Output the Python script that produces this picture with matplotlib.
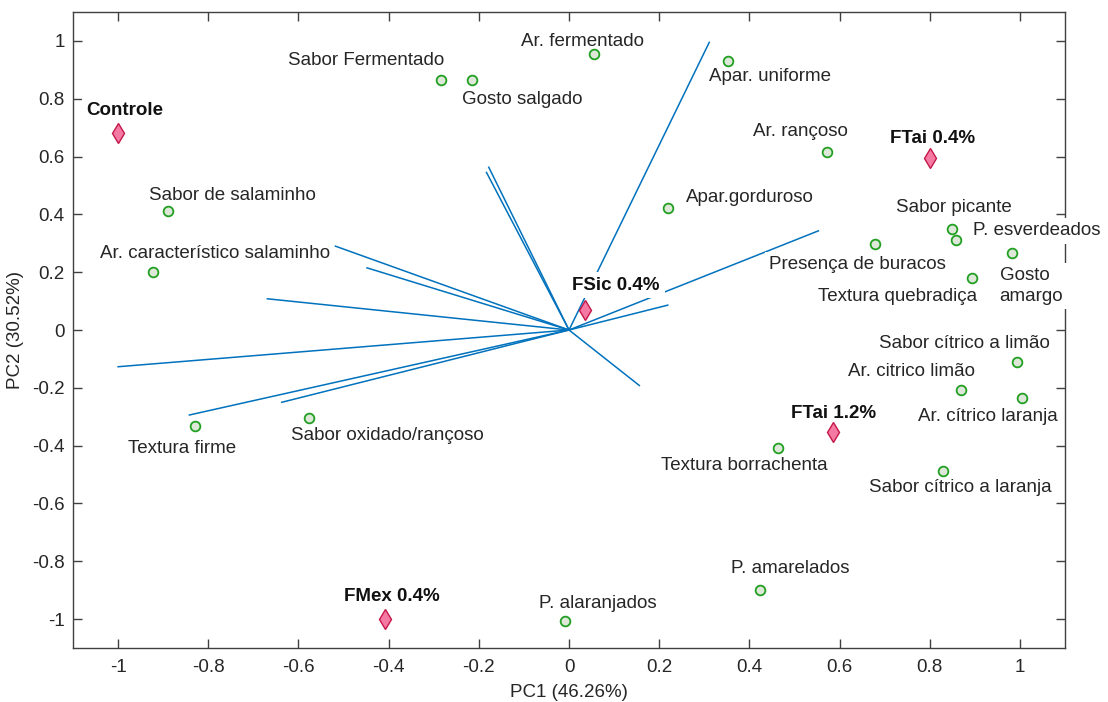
import numpy as np
import matplotlib
matplotlib.use("Agg")
import matplotlib.pyplot as plt

plt.rcParams['font.family'] = ['Liberation Sans', 'DejaVu Sans']
plt.rcParams['axes.unicode_minus'] = False

# loadings (biplot vectors from origin)
load_x = [-1.0, -0.669, -0.518, -0.448, -0.842, -0.637, -0.178, -0.183, 0.311, 0.553, 0.219, 0.156]
load_y = [-0.127, 0.108, 0.29, 0.215, -0.294, -0.25, 0.563, 0.545, 0.995, 0.343, 0.086, -0.192]

# sample scores
samples = ['Controle', 'FTai 0.4%', 'FSic 0.4%', 'FTai 1.2%', 'FMex 0.4%']
samp_x = [-1.0, 0.8, 0.035, 0.585, -0.408]
samp_y = [0.68, 0.596, 0.068, -0.354, -1.0]
samp_lx = [-1.07, 0.711, 0.0076, 0.493, -0.50]
samp_ly = [0.759, 0.662, 0.155, -0.289, -0.921]

# attributes
attrs = ['Sabor Fermentado', 'Gosto salgado', 'Ar. fermentado', 'Apar. uniforme',
         'Ar. rançoso', 'Apar.gorduroso', 'Sabor de salaminho',
         'Ar. característico salaminho', 'Textura firme', 'Sabor oxidado/rançoso',
         'Presença de buracos', 'Sabor picante', 'P. esverdeados', 'Gosto\namargo',
         'Textura quebradiça', 'Sabor cítrico a limão', 'Ar. citrico limão',
         'Ar. cítrico laranja', 'Sabor cítrico a laranja', 'Textura borrachenta',
         'P. amarelados', 'P. alaranjados']
attr_x = [-0.285, -0.215, 0.056, 0.353, 0.573, 0.219, -0.89, -0.922, -0.83, -0.576,
          0.679, 0.85, 0.859, 0.983, 0.894, 0.993, 0.87, 1.005, 0.83, 0.463, 0.424, -0.008]
attr_y = [0.864, 0.866, 0.956, 0.93, 0.615, 0.421, 0.41, 0.201, -0.331, -0.305,
          0.299, 0.349, 0.31, 0.267, 0.181, -0.111, -0.209, -0.236, -0.488, -0.407, -0.9, -1.008]
# label anchors (left edge, vertical centre)
attr_lx = [-0.624, -0.237, -0.106, 0.310, 0.408, 0.259, -0.932, -1.041, -0.978, -0.616,
           0.444, 0.726, 0.896, 0.955, 0.552, 0.688, 0.619, 0.774, 0.666, 0.204, 0.359, -0.067]
attr_ly = [0.933, 0.799, 0.997, 0.876, 0.686, 0.459, 0.464, 0.266, -0.411, -0.366,
           0.225, 0.423, 0.343, 0.152, 0.117, -0.046, -0.143, -0.30, -0.546, -0.467, -0.824, -0.945]

ticks = [-1, -0.8, -0.6, -0.4, -0.2, 0, 0.2, 0.4, 0.6, 0.8, 1]
tick_labels = ['-1', '-0.8', '-0.6', '-0.4', '-0.2', '0', '0.2', '0.4', '0.6', '0.8', '1']

fig = plt.figure(figsize=(11.08, 7.02), dpi=100)
ax = fig.add_axes([0.0659, 0.0769, 0.8953, 0.906])

for lx, ly in zip(load_x, load_y):
    ax.plot([0, lx], [0, ly], color='#0072BD', lw=1.1, zorder=1)

box = dict(facecolor='white', edgecolor='none', boxstyle='square,pad=0.25')

ax.plot(attr_x, attr_y, 'o', ms=7, mfc='#dde8d8', mec='#22a022', mew=1.3,
        ls='none', zorder=5)
ax.plot(samp_x, samp_y, 'd', ms=10, mfc='#f57aa3', mec='#c4174a', mew=1.0,
        ls='none', zorder=5)

for s, x, y in zip(attrs, attr_lx, attr_ly):
    ax.text(x, y, s, ha='left', va='center', fontsize=13.5, color='#262626',
            bbox=box, zorder=4, clip_on=False, linespacing=1.25)
for s, x, y in zip(samples, samp_lx, samp_ly):
    ax.text(x, y, s, ha='left', va='center', fontsize=13.5, color='#111111',
            fontweight='bold', bbox=box, zorder=4, clip_on=False)

ax.set_xlim(-1.1, 1.1)
ax.set_ylim(-1.1, 1.1)
ax.set_xticks(ticks)
ax.set_yticks(ticks)
ax.set_xticklabels(tick_labels)
ax.set_yticklabels(tick_labels)
ax.tick_params(direction='in', top=True, right=True, length=6.5, width=1,
               color='#404040', labelcolor='#262626', labelsize=13.5)
ax.tick_params(axis='x', pad=8)
ax.tick_params(axis='y', pad=6)
for sp in ax.spines.values():
    sp.set_color('#404040')
    sp.set_linewidth(1.0)

ax.set_xlabel('PC1 (46.26%)', fontsize=13.5, color='#262626', labelpad=6)
ax.set_ylabel('PC2 (30.52%)', fontsize=13.5, color='#262626', labelpad=6)

fig.savefig('out.png', dpi=100)
